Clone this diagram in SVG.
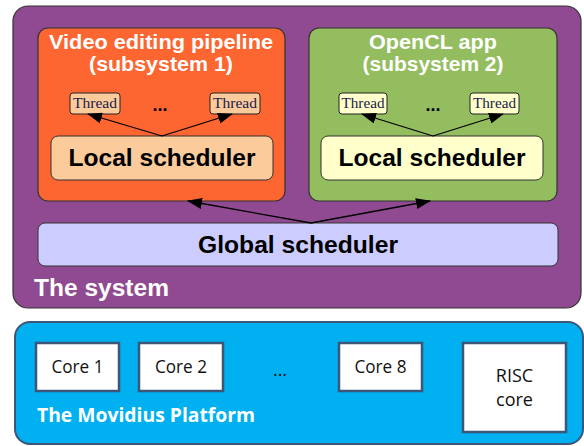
<svg xmlns="http://www.w3.org/2000/svg" width="584" height="446" viewBox="0 0 584 446">
<style>
.t{font-family:"Liberation Sans",Arial,sans-serif;font-weight:bold}
.title{font-size:21px;fill:#ffffff;text-anchor:middle}
.local{font-size:24px;fill:#000;text-anchor:middle}
.thr{font-family:"Liberation Serif","Times New Roman",serif;font-size:15px;fill:#1a1a4a;text-anchor:middle}
.thbox{stroke:#222;stroke-width:1}
.core{fill:#ffffff;stroke:#3b5677;stroke-width:2.5}
.ct{font-family:"Open Sans","Noto Sans",sans-serif;font-size:18px;fill:#111;text-anchor:middle}
.conn{stroke:#000;stroke-width:1.3;fill:none;marker-end:url(#ah)}
</style>
<defs>
<marker id="ah" markerUnits="userSpaceOnUse" markerWidth="15" markerHeight="11" refX="14" refY="5.5" orient="auto">
<path d="M0,0 L15,5.5 L0,11 Z" fill="#000"/>
</marker>
</defs>
<rect width="584" height="446" fill="#ffffff"/>
<g id="system">
<rect x="13" y="6" width="568" height="302" rx="15" fill="#904a91" stroke="#333" stroke-width="1.2"/>
<text class="t" x="34" y="296" font-size="23" fill="#ffffff" textLength="135" lengthAdjust="spacingAndGlyphs">The system</text>
</g>
<g id="subsystem1">
<rect x="38" y="28" width="247" height="173" rx="10" fill="#fd6531" stroke="#333" stroke-width="1.2"/>
<text class="t title" x="161" y="49" textLength="224" lengthAdjust="spacingAndGlyphs">Video editing pipeline</text>
<text class="t title" x="161" y="71" textLength="144" lengthAdjust="spacingAndGlyphs">(subsystem 1)</text>
</g>
<g id="thread1a">
<rect class="thbox" x="70" y="93" width="50" height="21" rx="3" fill="#fbcb9c"/>
<text class="thr" x="95" y="108" textLength="44" lengthAdjust="spacingAndGlyphs">Thread</text>
</g>
<text class="t" x="160" y="111" font-size="18" text-anchor="middle" fill="#000">...</text>
<g id="thread1b">
<rect class="thbox" x="210" y="93" width="50" height="21" rx="3" fill="#fbcb9c"/>
<text class="thr" x="235" y="108" textLength="44" lengthAdjust="spacingAndGlyphs">Thread</text>
</g>
<g id="local1">
<rect x="51" y="136" width="222" height="44" rx="7" fill="#fbcb9c" stroke="#333" stroke-width="1"/>
<text class="t local" x="162" y="166" textLength="187" lengthAdjust="spacingAndGlyphs">Local scheduler</text>
</g>
<g id="subsystem2">
<rect x="309" y="28" width="248" height="173" rx="10" fill="#93bd5f" stroke="#333" stroke-width="1.2"/>
<text class="t title" x="433" y="49" fill="#f2f2ea" textLength="128" lengthAdjust="spacingAndGlyphs">OpenCL app</text>
<text class="t title" x="433" y="71" fill="#f2f2ea" textLength="141" lengthAdjust="spacingAndGlyphs">(subsystem 2)</text>
</g>
<g id="thread2a">
<rect class="thbox" x="339" y="93" width="48" height="21" rx="3" fill="#ffffcc"/>
<text class="thr" x="363" y="108" textLength="43" lengthAdjust="spacingAndGlyphs">Thread</text>
</g>
<text class="t" x="433" y="111" font-size="18" text-anchor="middle" fill="#000">...</text>
<g id="thread2b">
<rect class="thbox" x="470" y="93" width="49" height="21" rx="3" fill="#ffffcc"/>
<text class="thr" x="494.5" y="108" textLength="43" lengthAdjust="spacingAndGlyphs">Thread</text>
</g>
<g id="local2">
<rect x="321" y="136" width="222" height="44" rx="7" fill="#ffffcc" stroke="#333" stroke-width="1"/>
<text class="t local" x="432" y="166" textLength="187" lengthAdjust="spacingAndGlyphs">Local scheduler</text>
</g>
<g id="global">
<rect x="38" y="223" width="520" height="43" rx="7" fill="#ccccff" stroke="#333" stroke-width="1"/>
<text class="t" x="298" y="253" font-size="24" text-anchor="middle" fill="#000" textLength="200" lengthAdjust="spacingAndGlyphs">Global scheduler</text>
</g>
<g id="connectors">
<path class="conn" d="M162,136 L88,114"/>
<path class="conn" d="M162,136 L232,114"/>
<path class="conn" d="M433,136 L362,114"/>
<path class="conn" d="M433,136 L503,114"/>
<path class="conn" d="M311,223 L188,201"/>
<path class="conn" d="M311,223 L430,201"/>
</g>
<g id="platform">
<rect x="15" y="322" width="568" height="122" rx="15" fill="#00b0f0" stroke="#3b5677" stroke-width="2"/>
<text x="37" y="422" font-family="'Open Sans','Noto Sans',sans-serif" font-weight="bold" font-size="20" fill="#ffffff" textLength="218" lengthAdjust="spacingAndGlyphs">The Movidius Platform</text>
</g>
<g id="core1">
<rect class="core" x="36" y="343" width="83" height="48"/>
<text class="ct" x="77.5" y="373" textLength="52" lengthAdjust="spacingAndGlyphs">Core 1</text>
</g>
<g id="core2">
<rect class="core" x="139" y="343" width="84" height="48"/>
<text class="ct" x="181" y="373" textLength="52" lengthAdjust="spacingAndGlyphs">Core 2</text>
</g>
<text class="ct" x="280" y="376" font-size="14">...</text>
<g id="core8">
<rect class="core" x="339" y="343" width="83" height="48"/>
<text class="ct" x="380.5" y="373" textLength="52" lengthAdjust="spacingAndGlyphs">Core 8</text>
</g>
<g id="risc">
<rect class="core" x="463" y="343" width="103" height="89"/>
<text class="ct" x="514.5" y="382">RISC</text>
<text class="ct" x="514.5" y="406">core</text>
</g>
</svg>
